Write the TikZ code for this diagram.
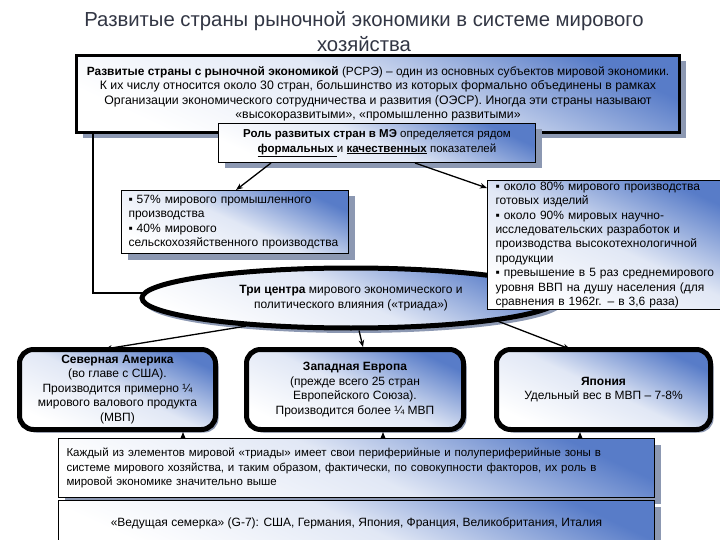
\documentclass[tikz,border=0pt]{standalone}
\usepackage{fontspec}
\setmainfont{Liberation Sans}
\usetikzlibrary{arrows.meta,shapes.geometric,shadows}
\definecolor{gblue}{RGB}{88,124,200}
\definecolor{shadowc}{RGB}{140,152,178}
\definecolor{titlec}{RGB}{50,54,68}
\tikzset{
  grad/.style={shade, top color=gblue, bottom color=white, middle color=gblue!18!white, shading angle=-25},
  shad/.style={drop shadow={shadow xshift=6pt,shadow yshift=-6pt,fill=shadowc,opacity=1}},
  body/.style={font=\fontsize{12}{14.5}\selectfont, inner sep=0pt},
  thinbox/.style={grad, draw=black, line width=1pt, shad, body},
  round/.style={grad, draw=black, line width=5pt, rounded corners=14pt, body, anchor=north west, align=center,
     drop shadow={shadow xshift=3pt,shadow yshift=-3pt,fill=shadowc,opacity=1}},
  arr/.style={-{Stealth[length=7pt,width=5.5pt]}, line width=1.3pt},
}
\begin{document}
\begin{tikzpicture}[x=1pt,y=-1pt]
\useasboundingbox (0,0) rectangle (720,540);
\clip (0,0) rectangle (720,540);
\fill[white] (0,0) rectangle (720,540);

% title
\node[font=\fontsize{20.3}{25}\selectfont, text=titlec, align=center] (title) at (364,32)
  {Развитые страны рыночной экономики в системе мирового\\хозяйства};

% named helper coordinates
\coordinate (c1) at (183,0);
\coordinate (c2) at (383,0);
\coordinate (c3) at (580,0);

% top box
\node[grad, draw=black, line width=3pt, shad, body, font=\fontsize{12.3}{14.5}\selectfont, anchor=north west, minimum width=603pt, minimum height=77pt, align=center] (top) at (75,54)
{{\fontsize{11.9}{14.5}\selectfont\textbf{Развитые страны с рыночной экономикой} (РСРЭ) – один из основных субъектов мировой экономики.}\\
К их числу относится около 30 стран, большинство из которых формально объединены в рамках\\
Организации экономического сотрудничества и развития (ОЭСР). Иногда эти страны называют\\
«высокоразвитыми», «промышленно развитыми»};

% role box
\node[thinbox, font=\fontsize{11.5}{14.5}\selectfont, anchor=north west, minimum width=317pt, minimum height=39pt, align=center] (role) at (218,123)
{\textbf{Роль развитых стран в МЭ} определяется рядом\\
\underline{\textbf{формальных }}и \underline{\textbf{качественных}} показателей};

% left connector
\draw[line width=2pt] ([xshift=18pt]top.south west) |- (143,293);

% left indicators box
\node[thinbox, anchor=north west, minimum width=227pt, minimum height=63pt, text width=213pt, align=left] (lbox) at (121,190)
{▪ 57\% мирового промышленного\\
производства\\
▪ 40\% мирового\\
сельскохозяйственного производства};

% ellipse
\node[ellipse, grad, draw=black, line width=5pt, body, minimum width=418pt, minimum height=60pt, align=center,
  drop shadow={shadow xshift=3pt,shadow yshift=-5pt,fill=shadowc,opacity=1}] (ell) at (351,298)
{\textbf{Три центра} мирового экономического и\\
политического влияния («триада»)};

% right indicators box
\node[grad, draw=black, line width=1pt, body, font=\fontsize{12}{14.4}\selectfont, anchor=north west, minimum width=245pt, minimum height=129pt, text width=229pt, align=left] (rbox) at (487,180)
{▪ около 80\% мирового производства\\
готовых изделий\\
▪ около 90\% мировых научно-\\
исследовательских разработок и\\
производства высокотехнологичной\\
продукции\\
▪ превышение в 5 раз среднемирового\\
уровня ВВП на душу населения (для\\
сравнения в 1962г. – в 3,6 раза)};

% arrows from role box
\draw[arr] ([xshift=53pt]role.south west) -- ([xshift=115pt]lbox.north west);
\draw[arr] ([xshift=197pt]role.south west) -- ([yshift=-8pt]rbox.north west);

% triad boxes
\node[round, minimum width=196pt, minimum height=80pt] (na) at (17,347)
{\textbf{Северная Америка}\\(во главе с США).\\Производится примерно ¼\\мирового валового продукта\\(МВП)};
\node[round, minimum width=217pt, minimum height=80pt] (we) at (244,347)
{\textbf{Западная Европа}\\(прежде всего 25 стран\\Европейского Союза).\\Производится более ¼ МВП};
\node[round, minimum width=214pt, minimum height=80pt] (jp) at (494,347)
{\textbf{Япония}\\Удельный вес в МВП – 7-8\%};

% arrows from ellipse
\draw[arr] (ell.195) -- ([xshift=88pt,yshift=-2pt]na.north west);
\draw[arr] ([xshift=8pt]ell.south) -- ([xshift=8pt]we.north);
\draw[arr] (ell.351) -- ([xshift=76pt,yshift=-2pt]jp.north west);

% bottom boxes
\node[thinbox, font=\fontsize{11.5}{14.5}\selectfont, anchor=north west, minimum width=596pt, minimum height=59pt, text width=580pt, align=left] (b1) at (58,438)
{Каждый из элементов мировой «триады» имеет свои периферийные и полупериферийные зоны в\\
системе мирового хозяйства, и таким образом, фактически, по совокупности факторов, их роль в\\
мировой экономике значительно выше};
\node[thinbox, anchor=north west, minimum width=596pt, minimum height=45pt, align=center] (b2) at (58,500)
{«Ведущая семерка» (G-7): США, Германия, Япония, Франция, Великобритания, Италия};

% arrows from bottom box up
\draw[arr] (b1.north -| c1) -- (na.south -| c1);
\draw[arr] (b1.north -| c2) -- (we.south -| c2);
\draw[arr] (b1.north -| c3) -- (jp.south -| c3);
\end{tikzpicture}
\end{document}
